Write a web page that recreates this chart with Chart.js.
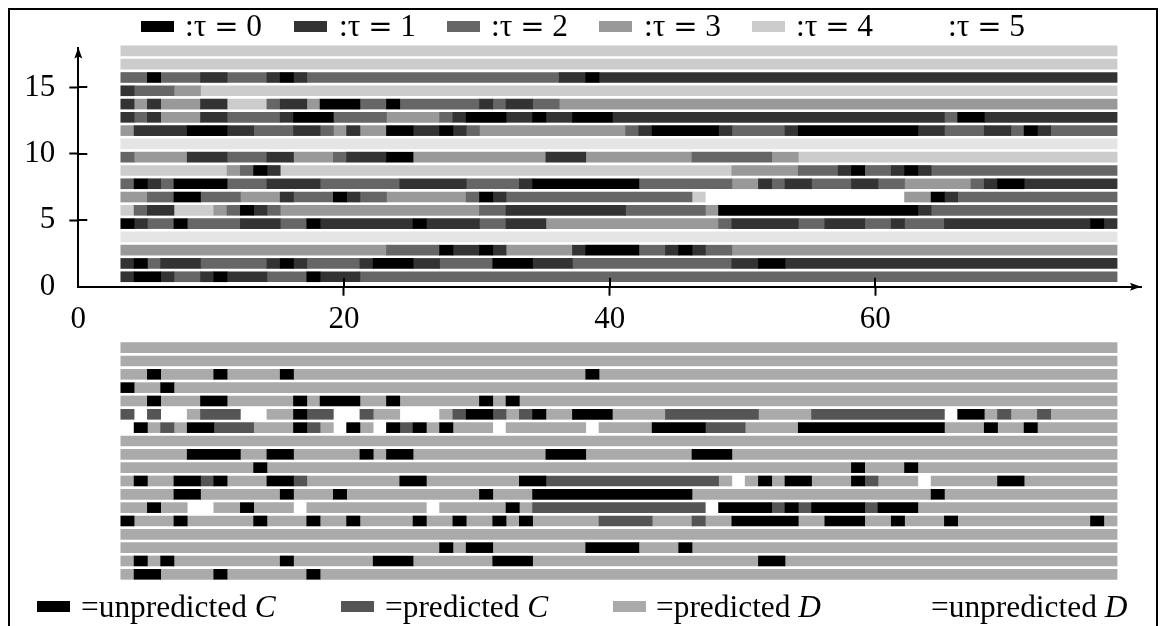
<!DOCTYPE html>
<html>
<head>
<meta charset="utf-8">
<title>Tau and prediction rows</title>
<script src="https://cdn.jsdelivr.net/npm/chart.js@4/dist/chart.umd.min.js"></script>
<style>
  html, body { margin: 0; padding: 0; background: #fff; overflow: hidden; }
  #page { position: relative; width: 1163px; height: 626px; overflow: hidden; font-family: "Liberation Serif", serif; color: #000; }
  #frame { position: absolute; left: 8px; top: 8px; width: 1150px; height: 700px; border: 2.5px solid #000; box-sizing: border-box; }
  canvas { position: absolute; left: 0; }
  #topChart { top: 0; }
  #bottomChart { top: 330px; }
  .swatch { position: absolute; width: 33px; height: 11px; }
  .label { position: absolute; font-size: 31.4px; line-height: 34px; white-space: nowrap; }
  .wide { font-family: "DejaVu Serif", serif; font-size: 29px; }
</style>
</head>
<body>
<div id="page">
  <div id="frame"></div>
  <canvas id="topChart" width="1163" height="330"></canvas>
  <canvas id="bottomChart" width="1163" height="296"></canvas>
  <div id="legends"></div>
</div>
<script>
// tau legend, index 6 is the pale row colour that has no legend entry
const tauLabels = ["0", "1", "2", "3", "4", "5"];
const tauColors = ["#000000", "#333333", "#666666", "#999999", "#cccccc", "#ffffff", "#e5e5e5"];
const predictLabels = ["unpredicted", "predicted", "predicted", "unpredicted"];
const predictMoves = ["C", "C", "D", "D"];
const predictColors = ["#000000", "#555555", "#aaaaaa", "#ffffff"];

const xTickValues = [0, 20, 40, 60];
const yTickValues = [0, 5, 10, 15];

// Rows from the bottom up, each a list of [colour index, number of steps]
const tauRows = [
  [[1,1],[0,2],[1,1],[2,2],[1,1],[0,1],[1,3],[2,3],[0,1],[1,3],[2,57]],
  [[1,1],[0,1],[2,1],[1,3],[2,5],[1,1],[0,1],[1,1],[2,4],[1,1],[0,3],[1,2],[2,4],[0,3],[1,3],[2,12],[1,2],[0,2],[1,25]],
  [[3,20],[2,4],[0,1],[1,2],[0,1],[1,1],[3,5],[1,1],[0,4],[2,2],[1,1],[0,1],[1,1],[2,2],[3,29]],
  [[6,75]],
  [[0,1],[1,1],[2,2],[0,1],[2,4],[1,3],[2,2],[0,1],[1,7],[0,1],[1,4],[2,2],[1,3],[3,13],[2,1],[1,5],[2,2],[1,3],[2,2],[1,1],[2,3],[1,11],[0,1],[1,1]],
  [[4,1],[2,1],[1,2],[4,3],[3,1],[2,1],[0,1],[1,1],[2,1],[3,15],[2,2],[1,9],[2,6],[3,1],[0,15],[1,1],[2,14]],
  [[3,2],[2,2],[0,2],[2,3],[3,3],[1,1],[2,3],[0,1],[1,1],[2,2],[3,6],[2,1],[0,1],[1,1],[2,14],[4,1],[5,15],[3,2],[0,1],[1,1],[2,12]],
  [[2,1],[0,1],[1,1],[2,1],[0,4],[2,3],[1,4],[2,6],[1,5],[2,4],[1,1],[0,8],[2,7],[3,2],[1,1],[2,1],[1,2],[2,3],[1,2],[2,2],[3,5],[2,1],[1,1],[0,2],[1,7]],
  [[4,8],[3,1],[2,1],[0,1],[1,1],[4,34],[3,5],[2,3],[1,1],[0,1],[2,2],[1,1],[0,1],[1,1],[2,14]],
  [[2,1],[3,4],[1,3],[2,3],[1,2],[3,3],[2,1],[1,3],[0,2],[3,10],[1,3],[3,8],[2,6],[3,2],[4,24]],
  [[6,75]],
  [[3,1],[1,4],[0,3],[1,2],[2,3],[1,2],[2,1],[3,1],[1,1],[3,2],[0,2],[1,2],[0,1],[1,1],[2,1],[3,11],[2,1],[1,1],[0,5],[1,1],[2,4],[1,1],[0,9],[1,2],[2,3],[1,2],[2,1],[0,1],[1,1],[2,5]],
  [[1,1],[2,1],[1,1],[3,3],[1,2],[2,4],[1,1],[0,3],[2,4],[3,4],[2,1],[1,1],[0,3],[1,2],[0,1],[1,2],[0,3],[1,25],[2,1],[0,2],[1,10]],
  [[1,1],[3,1],[1,1],[3,3],[1,2],[4,3],[2,1],[1,2],[3,1],[0,3],[2,2],[0,1],[2,6],[1,1],[2,1],[1,2],[2,2],[3,42]],
  [[1,1],[2,3],[3,2],[4,69]],
  [[2,2],[0,1],[2,3],[1,2],[2,3],[1,1],[0,1],[1,1],[2,19],[1,2],[0,1],[1,39]],
  [[4,75]],
  [[4,75]],
];

const predictRows = [
  [[2,1],[0,2],[2,4],[0,1],[2,6],[0,1],[2,60]],
  [[2,1],[0,1],[2,1],[0,1],[2,8],[0,1],[2,6],[0,3],[2,6],[0,3],[2,17],[0,2],[2,25]],
  [[2,24],[0,1],[2,1],[0,2],[2,7],[0,4],[2,3],[0,1],[2,32]],
  [[2,75]],
  [[0,1],[2,3],[0,1],[2,5],[0,1],[2,3],[0,1],[2,2],[0,1],[2,4],[0,1],[2,2],[0,1],[2,2],[0,1],[2,1],[0,1],[2,5],[1,4],[2,3],[1,1],[2,2],[0,5],[2,2],[0,3],[2,2],[0,1],[2,3],[0,1],[2,10],[0,1],[2,1]],
  [[2,2],[0,1],[2,2],[3,2],[2,2],[0,1],[2,3],[3,1],[2,9],[3,1],[2,5],[0,1],[2,1],[1,13],[3,1],[0,4],[1,1],[0,1],[1,1],[0,4],[1,1],[0,3],[2,15]],
  [[2,4],[0,2],[2,6],[0,1],[2,3],[0,1],[2,10],[0,1],[2,3],[0,12],[2,18],[0,1],[2,13]],
  [[2,1],[0,1],[2,2],[0,2],[1,1],[0,1],[2,3],[0,2],[1,1],[2,7],[0,2],[2,7],[0,2],[1,13],[2,1],[3,1],[2,1],[0,1],[2,1],[0,2],[2,3],[0,1],[1,1],[2,3],[3,1],[2,5],[0,2],[2,7]],
  [[2,10],[0,1],[2,44],[0,1],[2,3],[0,1],[2,15]],
  [[2,5],[0,4],[2,2],[0,2],[2,5],[0,1],[2,1],[0,2],[2,10],[0,3],[2,8],[0,3],[2,29]],
  [[2,75]],
  [[3,1],[0,1],[2,1],[1,1],[2,1],[0,2],[1,3],[2,3],[0,1],[1,1],[2,1],[3,1],[0,1],[2,1],[3,1],[0,1],[1,1],[0,1],[2,1],[0,1],[2,3],[3,1],[2,6],[3,1],[2,4],[0,4],[1,3],[2,4],[0,11],[2,3],[0,1],[2,2],[0,1],[2,6]],
  [[1,1],[3,1],[1,1],[3,2],[2,1],[1,3],[3,2],[2,2],[0,1],[1,2],[3,2],[1,1],[2,2],[3,3],[2,1],[1,1],[0,2],[1,1],[2,1],[1,1],[0,1],[2,2],[0,3],[2,4],[1,7],[2,4],[1,10],[3,1],[0,2],[2,1],[1,1],[2,2],[1,1],[2,5]],
  [[2,2],[0,1],[2,3],[0,2],[2,5],[0,1],[2,1],[0,3],[2,2],[0,1],[2,6],[0,1],[2,1],[0,1],[2,45]],
  [[0,1],[2,2],[0,1],[2,71]],
  [[2,2],[0,1],[2,4],[0,1],[2,4],[0,1],[2,22],[0,1],[2,39]],
  [[2,75]],
  [[2,75]],
];

const firstStep = 3.2;   // left edge of the first cell on the x axis
const rowOffset = 0.75;  // rows sit a little above the integer ticks

// one dataset per colour, every run becomes a floating bar
function buildDatasets(rows, colors) {
  return colors.map((color, colorIndex) => {
    const bars = [];
    rows.forEach((runs, rowIndex) => {
      let start = firstStep;
      runs.forEach(([code, count]) => {
        if (code === colorIndex) {
          bars.push({ x: [start, start + count], y: rowIndex + rowOffset });
        }
        start += count;
      });
    });
    return { data: bars, backgroundColor: color, borderWidth: 0, barThickness: 10, grouped: false, clip: false };
  });
}

const serif = { family: "'Liberation Serif', serif", size: 31 };
const halfTick = 9;

// arrow heads and the part of each tick that crosses into the plot
const axisMarks = {
  id: "axisMarks",
  afterDatasetsDraw(chart) {
    const { ctx, chartArea, scales } = chart;
    const left = chartArea.left, bottom = chartArea.bottom;
    ctx.save();
    ctx.strokeStyle = "#000";
    ctx.fillStyle = "#000";
    ctx.lineWidth = 2;
    yTickValues.slice(1).forEach((v) => {
      const py = Math.round(scales.y.getPixelForValue(v));
      ctx.beginPath(); ctx.moveTo(left, py); ctx.lineTo(left + halfTick, py); ctx.stroke();
    });
    xTickValues.slice(1).forEach((v) => {
      const px = Math.round(scales.x.getPixelForValue(v));
      ctx.beginPath(); ctx.moveTo(px, bottom); ctx.lineTo(px, bottom - halfTick); ctx.stroke();
    });
    // y arrow
    ctx.beginPath();
    ctx.moveTo(left, chartArea.top);
    ctx.lineTo(left + 4, chartArea.top + 11);
    ctx.lineTo(left, chartArea.top + 9);
    ctx.lineTo(left - 4, chartArea.top + 11);
    ctx.closePath();
    ctx.fill();
    // x arrow
    ctx.beginPath();
    ctx.moveTo(chartArea.right, bottom);
    ctx.lineTo(chartArea.right - 11, bottom - 4);
    ctx.lineTo(chartArea.right - 9, bottom);
    ctx.lineTo(chartArea.right - 11, bottom + 4);
    ctx.closePath();
    ctx.fill();
    ctx.restore();
  },
};

const hideZeroTick = (ctx) => (ctx.tick && ctx.tick.value === 0 ? "rgba(0,0,0,0)" : "#000");

new Chart(document.getElementById("topChart"), {
  type: "bar",
  plugins: [axisMarks],
  data: { datasets: buildDatasets(tauRows, tauColors) },
  options: {
    indexAxis: "y",
    responsive: false,
    animation: false,
    layout: { padding: { top: 47.6, right: 22, bottom: 0, left: 0 } },
    plugins: { legend: { display: false }, tooltip: { enabled: false } },
    scales: {
      x: {
        type: "linear", min: 0, max: 80,
        afterBuildTicks: (s) => { s.ticks = xTickValues.map((v) => ({ value: v })); },
        afterFit: (s) => { s.height = 43.3; },
        border: { color: "#000", width: 2 },
        grid: { drawOnChartArea: false, tickLength: halfTick, tickWidth: 2, tickColor: hideZeroTick },
        ticks: { color: "#000", font: serif, padding: 6, maxRotation: 0, autoSkip: false, callback: (v) => String(v) },
      },
      y: {
        type: "linear", min: 0, max: 18, offset: false,
        afterBuildTicks: (s) => { s.ticks = yTickValues.map((v) => ({ value: v })); },
        afterFit: (s) => { s.width = 78.3; },
        border: { color: "#000", width: 2 },
        grid: { offset: false, drawOnChartArea: false, tickLength: halfTick, tickWidth: 2, tickColor: hideZeroTick },
        ticks: { color: "#000", font: serif, padding: 14, autoSkip: false, callback: (v) => String(v) },
      },
    },
  },
});

new Chart(document.getElementById("bottomChart"), {
  type: "bar",
  data: { datasets: buildDatasets(predictRows, predictColors) },
  options: {
    indexAxis: "y",
    responsive: false,
    animation: false,
    layout: { padding: { top: 14.3, right: 22, bottom: 41.7, left: 78.3 } },
    plugins: { legend: { display: false }, tooltip: { enabled: false } },
    scales: {
      x: { type: "linear", min: 0, max: 80, display: false },
      y: { type: "linear", min: 0, max: 18, offset: false, display: false },
    },
  },
});

// legends are plain html so the math symbols and italics stay as text
const legends = document.getElementById("legends");
const tauSwatchX = [141, 294, 447, 599, 752, 905];
const tauTextX = [185, 339, 491, 644, 796, 948];
const predictSwatchX = [37, 341, 613, 884];
const predictTextX = [81, 385, 656, 931];

function addSwatch(x, y, color) {
  const el = document.createElement("div");
  el.className = "swatch";
  el.style.cssText = `left:${x}px;top:${y}px;background:${color}`;
  legends.appendChild(el);
}
function addLabel(x, y, html) {
  const el = document.createElement("div");
  el.className = "label";
  el.style.cssText = `left:${x}px;top:${y}px`;
  el.innerHTML = html;
  legends.appendChild(el);
}

tauLabels.forEach((t, i) => {
  addSwatch(tauSwatchX[i], 21, tauColors[i]);
  addLabel(tauTextX[i], 9, `:τ <span class="wide">=</span> ${t}`);
});
predictLabels.forEach((t, i) => {
  addSwatch(predictSwatchX[i], 601, predictColors[i]);
  addLabel(predictTextX[i], 590, `=${t} <i>${predictMoves[i]}</i>`);
});
</script>
</body>
</html>
